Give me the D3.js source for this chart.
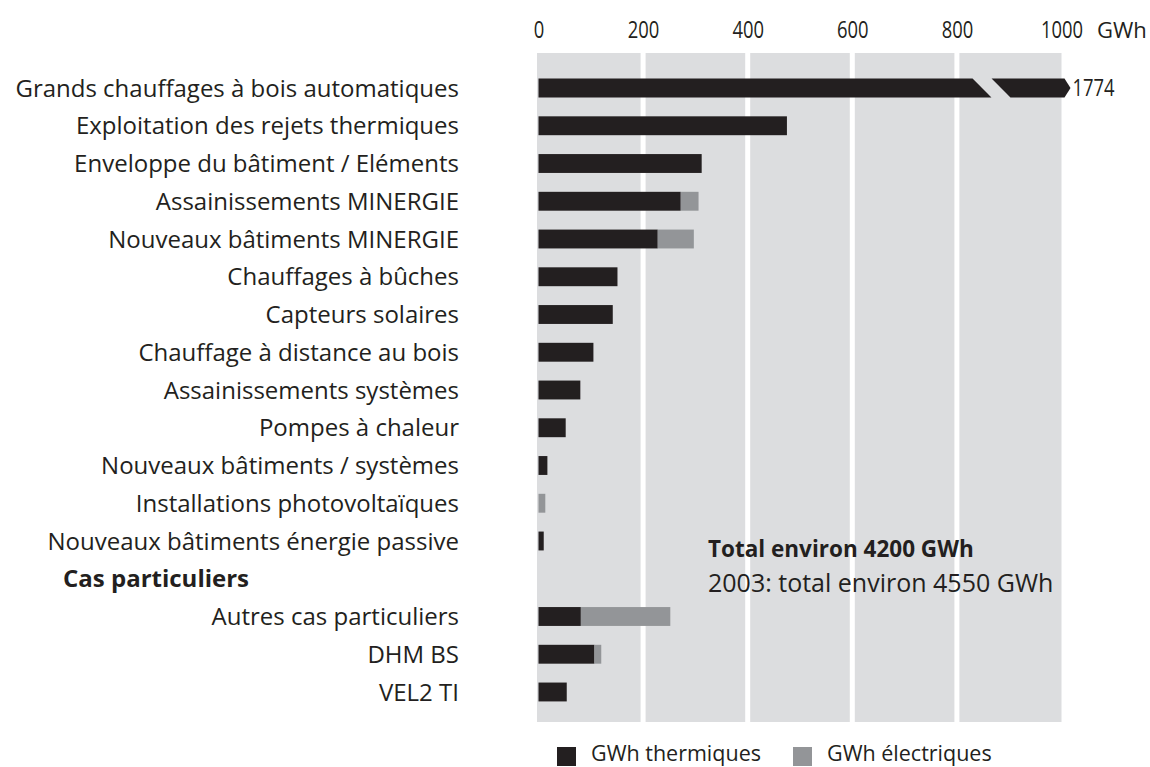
<!DOCTYPE html>
<html>
<head>
<meta charset="utf-8">
<title>GWh par domaine</title>
<script src="https://d3js.org/d3.v7.min.js"></script>
<style>
  body { margin: 0; background: #fff; }
  text { fill: #231f20; font-family: "Open Sans", "Noto Sans", sans-serif; }
  .lbl { font-size: 24px; }
  .num { font-size: 23px; }
</style>
</head>
<body>
<svg width="1150" height="767"></svg>
<script>

var categories = [
  "Grands chauffages à bois automatiques",
  "Exploitation des rejets thermiques",
  "Enveloppe du bâtiment / Eléments",
  "Assainissements MINERGIE",
  "Nouveaux bâtiments MINERGIE",
  "Chauffages à bûches",
  "Capteurs solaires",
  "Chauffage à distance au bois",
  "Assainissements systèmes",
  "Pompes à chaleur",
  "Nouveaux bâtiments / systèmes",
  "Installations photovoltaïques",
  "Nouveaux bâtiments énergie passive",
  "Cas particuliers",
  "Autres cas particuliers",
  "DHM BS",
  "VEL2 TI"
];
// GWh thermiques / électriques, null = heading row
var thermal  = [1774, 475, 312, 272, 228, 151, 142, 105, 80, 52, 17, 0, 10, null, 81, 107, 54];
var electric = [0, 0, 0, 34, 69, 0, 0, 0, 0, 0, 0, 13, 0, null, 171, 13, 0];
var tickValues = [0, 200, 400, 600, 800, 1000];
var headings = ["Cas particuliers"];
var notes = ["Total environ 4200 GWh", "2003: total environ 4550 GWh"];
var legendItems = ["GWh thermiques", "GWh électriques"];

var svg = d3.select("svg");

var x = d3.scaleLinear().domain([0, 1000]).range([538.5, 1061.5]);
var y = d3.scaleBand().domain(categories).range([59.7, 720.3]).padding(0.5);
var color = d3.scaleOrdinal().domain(legendItems).range(["#231f20", "#939598"]);

var rows = categories.map(function(c, i) {
  return {name: c, th: thermal[i], el: electric[i]};
});
var isHead = function(d) { return headings.indexOf(d.name) >= 0; };

// grey panel + white grid lines
svg.append("rect")
    .attr("x", x(0) - 1.5)
    .attr("y", 53)
    .attr("width", x(1000) - x(0) + 1.5)
    .attr("height", 722 - 53)
    .attr("fill", "#dcdddf");

svg.selectAll(".grid")
  .data(tickValues.slice(1, -1))
  .enter().append("line")
    .attr("x1", function(d) { return x(d); })
    .attr("x2", function(d) { return x(d); })
    .attr("y1", 53)
    .attr("y2", 722)
    .attr("stroke", "#fff")
    .attr("stroke-width", 5);

// top axis (narrow figures)
var axis = svg.append("g")
    .attr("transform", "translate(0,41)")
    .call(d3.axisTop(x).tickValues(tickValues).tickSize(0).tickPadding(3).tickFormat(d3.format("d")));
axis.attr("font-family", null).attr("font-size", null);
axis.select(".domain").remove();
axis.selectAll("text")
    .attr("class", "num")
    .attr("fill", "#231f20")
    .attr("transform", "scale(0.8,1)");

svg.append("text")
    .attr("x", 1097)
    .attr("y", 38)
    .attr("font-size", 22)
    .text("GWh");

// category labels
svg.selectAll(".cat")
  .data(rows)
  .enter().append("text")
    .attr("class", "lbl")
    .attr("x", function(d) { return isHead(d) ? 63 : 459; })
    .attr("y", function(d) { return y(d.name) + y.bandwidth() / 2; })
    .attr("dy", "0.36em")
    .attr("text-anchor", function(d) { return isHead(d) ? "start" : "end"; })
    .attr("font-weight", function(d) { return isHead(d) ? "bold" : null; })
    .text(function(d) { return d.name; });

var maxV = x.domain()[1];
var bars = rows.filter(function(d) { return d.th !== null; });

// thermal bars
svg.selectAll(".th")
  .data(bars.filter(function(d) { return d.th > 0 && d.th <= maxV; }))
  .enter().append("rect")
    .attr("x", x(0))
    .attr("y", function(d) { return y(d.name); })
    .attr("width", function(d) { return x(d.th) - x(0); })
    .attr("height", y.bandwidth())
    .attr("fill", color(legendItems[0]));

// electric bars stacked after thermal
svg.selectAll(".el")
  .data(bars.filter(function(d) { return d.el > 0; }))
  .enter().append("rect")
    .attr("x", function(d) { return x(d.th); })
    .attr("y", function(d) { return y(d.name); })
    .attr("width", function(d) { return x(d.th + d.el) - x(d.th); })
    .attr("height", y.bandwidth())
    .attr("fill", color(legendItems[1]));

// bars beyond the axis: broken bar with arrow tip
bars.filter(function(d) { return d.th > maxV; }).forEach(function(d) {
  var t = y(d.name), h = y.bandwidth(), b = t + h, m = t + h / 2;
  var x0 = x(0), xb = x(830), gap = 19, xe = x(maxV) + 3, tip = 6;
  svg.append("path")
      .attr("d", "M" + x0 + "," + t + "L" + xb + "," + t + "L" + (xb + h) + "," + b + "L" + x0 + "," + b + "Z")
      .attr("fill", color(legendItems[0]));
  svg.append("path")
      .attr("d", "M" + (xb + gap) + "," + t + "L" + xe + "," + t + "L" + (xe + tip) + "," + m +
                 "L" + xe + "," + b + "L" + (xb + gap + h) + "," + b + "Z")
      .attr("fill", color(legendItems[0]));
  svg.append("text")
      .attr("class", "num")
      .attr("transform", "translate(" + (xe + tip + 2) + "," + m + ") scale(0.8,1)")
      .attr("dy", "0.36em")
      .text(d.th);
});

// totals
svg.selectAll(".note")
  .data(notes)
  .enter().append("text")
    .attr("x", 708)
    .attr("y", function(d, i) { return 557 + i * 35; })
    .attr("font-size", function(d, i) { return i === 0 ? 22.5 : 25; })
    .attr("font-weight", function(d, i) { return i === 0 ? "bold" : null; })
    .text(function(d) { return d; });

// legend
var leg = svg.selectAll(".leg")
  .data(legendItems)
  .enter().append("g")
    .attr("transform", function(d, i) { return "translate(" + (557 + i * 236) + ",747)"; });
leg.append("rect")
    .attr("width", 19)
    .attr("height", 19)
    .attr("fill", function(d) { return color(d); });
leg.append("text")
    .attr("x", 34)
    .attr("y", 14)
    .attr("font-size", 21.5)
    .text(function(d) { return d; });

</script>
</body>
</html>
